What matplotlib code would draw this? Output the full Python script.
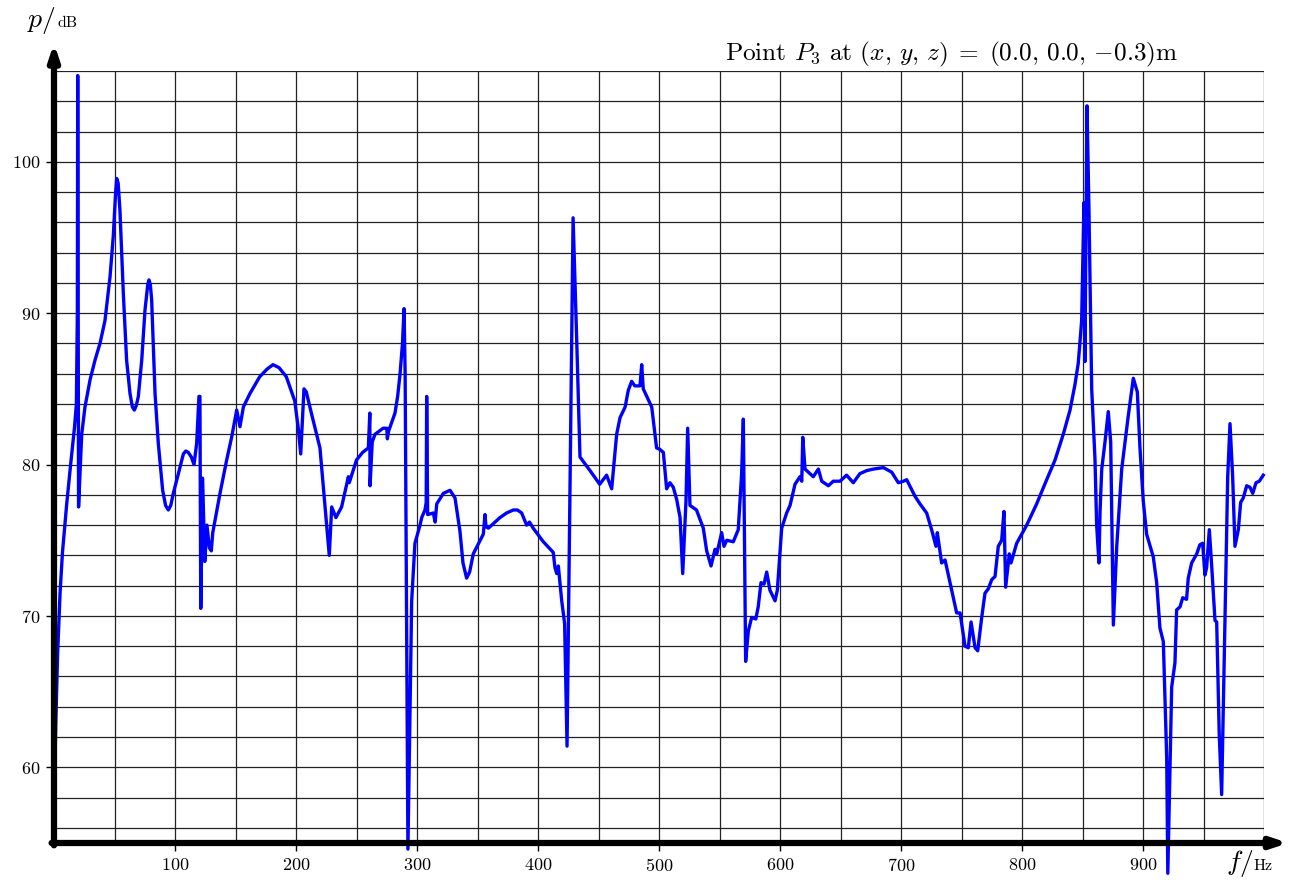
import matplotlib
matplotlib.use("Agg")
import matplotlib.pyplot as plt
import numpy as np

plt.rcParams['font.family'] = 'cmr10'
plt.rcParams['mathtext.fontset'] = 'cm'
plt.rcParams['axes.formatter.use_mathtext'] = True

# frequency (Hz) and sound pressure level (dB)
freq = [0, 1.5, 3, 5, 7, 10.5, 14, 17, 18.5, 19.3, 19.6, 20.3, 22.9, 25.6, 29.8, 33.9,
        38, 42.1, 46.3, 49, 50.8, 51.8, 53, 54.5, 57.3, 60, 62.8, 64.8, 66.4, 68, 69.7,
        72.5, 75.2, 77.5, 78.5, 79.6, 80.7, 83.5, 86.2, 89.8, 92.2, 94.5, 96.5, 98.6,
        102.8, 106.9, 109, 111, 113.5, 115.7, 117.9, 119.8,
        120.6, 121.3, 122.8, 124.6, 126.4, 128.4, 130, 131.2, 137.2, 142.7, 146.8, 151,
        153.7, 156.5, 162, 170, 176, 181, 186, 192, 199, 202, 203.9, 206.6, 208.5, 213,
        219.8, 222.6, 227.5, 229.5, 233, 237.7, 243.3, 244, 250, 255, 259.8, 261, 261.2,
        263, 265.3, 272, 275, 275.5, 276.5, 281.8, 284, 286, 288, 289.3, 290.2, 292.5,
        295.6, 298.3, 302.5, 303.9, 306.6, 307.6, 308, 308.8, 313.5, 315, 316.3, 321.8,
        327.3, 331.4, 335.5, 338, 341, 343.5, 346.5, 354.8, 356.2, 357, 359, 368.6, 374,
        379.6, 383, 386.5, 390.6, 393, 396, 404.4, 412.6, 414, 415.5, 416.8, 419.6, 422,
        424, 429, 432, 434.7, 443, 451, 456.7, 460.9, 465, 467.8, 472, 474.6, 477.4, 480,
        484.3, 485.7, 487, 494, 498, 500.8, 503.6, 506.3, 509, 511.8, 514.6, 517.4,
        519.6, 522.3, 523.7, 525.6, 531, 536.6, 539.4, 543, 546.3, 547.7, 551.8, 553.7,
        556, 561.4, 565.5, 568.3, 569.7, 571.6, 573.8, 576.6, 580, 582, 584.3, 586.8,
        589, 591.7, 595.9, 597.8, 601.4, 605.5, 608.3, 612.4, 616.5, 618, 618.8, 620.7,
        627.5, 631.7, 634.5, 640, 644, 649.6, 655, 660.6, 666, 671.6, 677, 685.4, 692.3,
        697.8, 702, 704.7, 711.6, 715.7, 721.2, 725.3, 728.9, 730, 733.6, 736.4, 740.5,
        746, 748.8, 752.9, 755.6, 757.9, 761.2, 763.4, 766.7, 769.4, 772.2, 775, 777.7,
        780.4, 783.2, 785.1, 786.5, 789.5, 790.9, 795.6, 803.9, 812.1, 820.4, 827.3,
        834.1, 839.7, 843.8, 846.5, 849.3, 851.2, 852, 853.7, 855.3, 857.6, 860.3,
        861.7, 863.6, 864.5, 865.9, 868.6, 871.3, 873.3, 875.5, 878.3, 882.4, 887.8,
        892, 895.3, 897.5, 900.2, 903, 908.5, 911.3, 914, 916.8, 919.6, 920.5, 923.7,
        926.4, 927.8, 930.6, 932.8, 936, 937.4, 940.2, 944.4, 947, 949.3, 951.2, 952.6,
        954.8, 956.7, 959.5, 960.9, 963, 965, 967.8, 970, 971.9, 974.1, 976, 978.8,
        980.7, 982.9, 985.7, 988.4, 990.7, 993.4, 996.1, 999.4]
level = [57.1, 63, 67.5, 71.5, 74.2, 77.4, 80.2, 82.5, 84, 90, 105.7, 77.2, 82.0, 83.8,
         85.6, 86.9, 88.0, 89.5, 92.4, 95.1, 97.8, 98.9, 98.6, 96.8, 91.3, 86.9, 84.7,
         83.8, 83.6, 83.9, 84.5, 86.9, 90.2, 91.9, 92.2, 91.9, 90.9, 84.7, 81.4, 78.3,
         77.3, 77.0, 77.3, 78.1, 79.4, 80.7, 80.9, 80.8, 80.5, 80.0, 81.4, 84.5,
         84.5, 70.5, 79.1, 73.6, 76.0, 74.5, 74.3, 75.5, 78.1, 80.3, 81.8, 83.6,
         82.5, 83.8, 84.7, 85.8, 86.3, 86.6, 86.4, 85.8, 84.2, 82.3, 80.7, 85.0, 84.8,
         83.3, 81.1, 78.5, 74.0, 77.2, 76.5, 77.2, 79.2, 78.8, 80.3, 80.8, 81.1, 83.4,
         78.6, 81.5, 82.0, 82.4, 82.4, 81.7, 82.2, 83.4, 84.5, 86.0, 88.0, 90.3, 86.0,
         54.6, 71.0, 74.8, 76.0, 76.5, 77.0, 77.5, 84.5, 76.7, 76.8, 76.2, 77.4, 78.1,
         78.3, 77.8, 75.6, 73.5, 72.5, 72.9, 74.1, 75.4, 76.7, 75.9, 75.8, 76.5, 76.8,
         77.0, 77.0, 76.8, 76.0, 76.2, 75.8, 74.9, 74.2, 73.2, 72.8, 73.3, 71.0, 69.5,
         61.4, 96.3, 88.2, 80.5, 79.6, 78.7, 79.3, 78.4, 82.0, 83.1, 83.8, 84.9, 85.5,
         85.2, 85.2, 86.6, 85.0, 83.8, 81.1, 81.0, 80.8, 78.4, 78.8, 78.5, 77.7, 76.5,
         72.8, 77.6, 82.4, 77.3, 77.0, 75.8, 74.3, 73.3, 74.4, 74.1, 75.5, 74.6, 75.0,
         74.9, 75.7, 79.4, 83.0, 67.0, 69.0, 69.9, 69.8, 70.6, 72.2, 72.1, 72.9, 71.7,
         71.0, 71.7, 75.8, 76.8, 77.3, 78.7, 79.2, 78.9, 81.8, 79.7, 79.2, 79.7, 78.9,
         78.6, 78.9, 78.9, 79.3, 78.8, 79.4, 79.6, 79.7, 79.8, 79.5, 78.8, 78.9, 79.0,
         77.9, 77.4, 76.8, 75.7, 74.6, 75.5, 73.5, 73.7, 72.2, 70.2, 70.2, 68.0, 67.9,
         69.6, 67.9, 67.7, 69.9, 71.5, 71.8, 72.4, 72.6, 74.6, 75.0, 76.9, 71.9, 74.1,
         73.5, 74.8, 76.0, 77.4, 79.0, 80.3, 82.0, 83.6, 85.3, 86.7, 89.5, 97.3, 86.8,
         103.7, 97.0, 85.0, 80.4, 76.0, 73.5, 76.9, 79.7, 81.5, 83.5, 81.5, 69.4, 74.6,
         79.7, 83.2, 85.7, 84.8, 81.1, 77.6, 75.4, 73.9, 72.2, 69.2, 68.3, 60.6, 53.0,
         65.3, 66.9, 70.4, 70.6, 71.2, 71.1, 72.5, 73.5, 74.1, 74.7, 74.8, 72.7, 73.2,
         75.7, 73.4, 69.7, 69.6, 62.2, 58.2, 69.9, 79.2, 82.7, 79.2, 74.6, 75.7, 77.5,
         77.8, 78.6, 78.5, 78.1, 78.8, 78.9, 79.3]

x_labels = [100, 200, 300, 400, 500, 600, 700, 800, 900]
y_labels = [60, 70, 80, 90, 100]

fig = plt.figure(figsize=(12.98, 8.82), dpi=100)
ax = fig.add_axes([54 / 1298, 39 / 882, 1210 / 1298, 772 / 882])

ax.plot(freq, level, color="#0000ff", lw=2.4, clip_on=False, zorder=5)

ax.set_xlim(0, 1000)
ax.set_ylim(55, 106)
ax.set_xticks(x_labels)
ax.set_yticks(y_labels)
ax.set_xticks(np.arange(50, 1001, 50), minor=True)
ax.set_yticks(np.arange(56, 107, 2), minor=True)
ax.grid(which="both", color="#222222", lw=0.9)
ax.tick_params(which="minor", length=0)
ax.tick_params(which="major", direction="out", length=6, width=1, labelsize=13, pad=4)

for s in ["top", "right", "left", "bottom"]:
    ax.spines[s].set_visible(False)

# axis arrows
arrow = dict(arrowstyle="-|>,head_length=0.9,head_width=0.3", lw=4.5, color="k",
             shrinkA=0, shrinkB=0)
ax.annotate("", xy=(0, 1.036), xytext=(0, -0.003), xycoords="axes fraction",
            arrowprops=arrow, annotation_clip=False, zorder=6)
ax.annotate("", xy=(1.02, 0), xytext=(-0.002, 0), xycoords="axes fraction",
            arrowprops=arrow, annotation_clip=False, zorder=6)

ax.text(0.929, 1.014, r"Point $P_3$ at $(x,\,y,\,z)\;=\;(0.0,\,0.0,\,{-0.3})$m",
        transform=ax.transAxes, ha="right", va="baseline", fontsize=18.2)

fig.text(27 / 1298, 1 - 27 / 882, r"$p/$", fontsize=20, va="baseline")
fig.text(57 / 1298, 1 - 27 / 882, "dB", fontsize=11.5, va="baseline")
fig.text(1226 / 1298, 1 - 870 / 882, r"$f/$", fontsize=20, va="baseline")
fig.text(1254 / 1298, 1 - 870 / 882, "Hz", fontsize=11.5, va="baseline")

fig.savefig("out.png", dpi=100)
